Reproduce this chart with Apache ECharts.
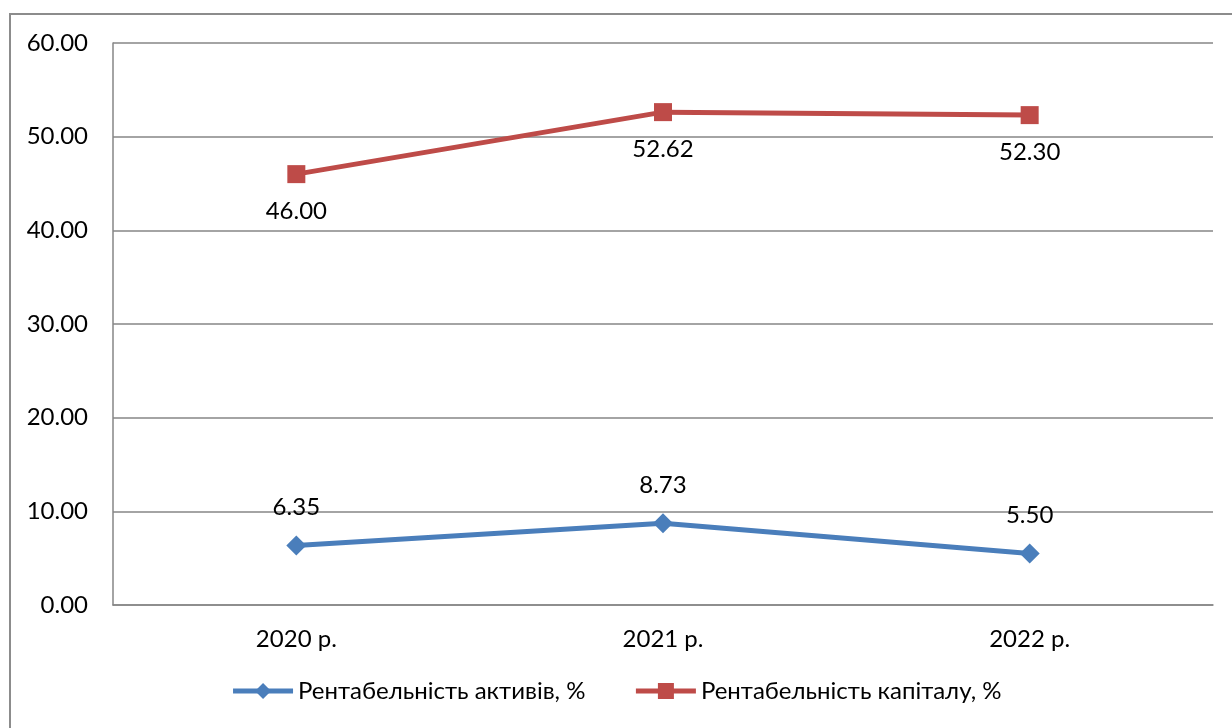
<!DOCTYPE html>
<html>
<head>
<meta charset="utf-8">
<style>
  html, body { margin: 0; padding: 0; background: #fff; }
  #chart { width: 1232px; height: 728px; }
</style>
<script src="https://cdn.jsdelivr.net/npm/echarts@6/dist/echarts.min.js"></script>
</head>
<body>
<div id="chart"></div>
<script>
// Categories and indicator values (%)
const years = ['2020 р.', '2021 р.', '2022 р.'];
const returnOnAssets = [6.35, 8.73, 5.50];
const returnOnEquity = [46.00, 52.62, 52.30];
const seriesNames = ['Рентабельність активів, %', 'Рентабельність капіталу, %'];

const FONT = 'Lato, "Open Sans", sans-serif';
const FS = 24;
const chart = echarts.init(document.getElementById('chart'), null, { renderer: 'canvas' });

chart.setOption({
  backgroundColor: '#fff',
  animation: false,
  textStyle: { fontFamily: FONT },
  graphic: [{
    type: 'rect',
    shape: { x: 10, y: 14, width: 1232, height: 730 },
    style: { fill: 'none', stroke: '#8c8c8c', lineWidth: 2 },
    silent: true
  }],
  grid: { left: 113, right: 19, top: 43, bottom: 123, containLabel: false },
  legend: {
    bottom: 20,
    left: 'center',
    itemWidth: 60,
    itemHeight: 20,
    itemGap: 48,
    lineStyle: { width: 5 },
    textStyle: { fontFamily: FONT, fontSize: FS, color: '#000' },
    data: seriesNames
  },
  xAxis: {
    type: 'category',
    data: years,
    boundaryGap: true,
    axisLine: { show: true, lineStyle: { color: '#868686', width: 1.5 } },
    axisTick: { show: false },
    axisLabel: { color: '#000', fontSize: FS, fontFamily: FONT, margin: 22 }
  },
  yAxis: {
    type: 'value',
    min: 0, max: 60, interval: 10,
    axisLine: { show: true, lineStyle: { color: '#868686', width: 1.5 } },
    axisTick: { show: false },
    splitLine: { show: true, lineStyle: { color: '#868686', width: 1.5 } },
    axisLabel: {
      color: '#000', fontSize: FS, fontFamily: FONT, margin: 25,
      formatter: v => v.toFixed(2)
    }
  },
  series: [
    {
      name: seriesNames[0],
      type: 'line',
      data: returnOnAssets,
      symbol: 'diamond',
      symbolSize: 20,
      color: '#4a7ebb',
      lineStyle: { width: 5, color: '#4a7ebb' },
      itemStyle: { color: '#4a7ebb' },
      label: {
        show: true, position: 'top', distance: 16,
        color: '#000', fontSize: FS, fontFamily: FONT,
        formatter: p => p.value.toFixed(2)
      }
    },
    {
      name: seriesNames[1],
      type: 'line',
      data: returnOnEquity,
      symbol: 'rect',
      symbolSize: 18,
      color: '#be4b48',
      lineStyle: { width: 5, color: '#be4b48' },
      itemStyle: { color: '#be4b48' },
      label: {
        show: true, position: 'bottom', distance: 16,
        color: '#000', fontSize: FS, fontFamily: FONT,
        formatter: p => p.value.toFixed(2)
      }
    }
  ]
});
</script>
</body>
</html>
